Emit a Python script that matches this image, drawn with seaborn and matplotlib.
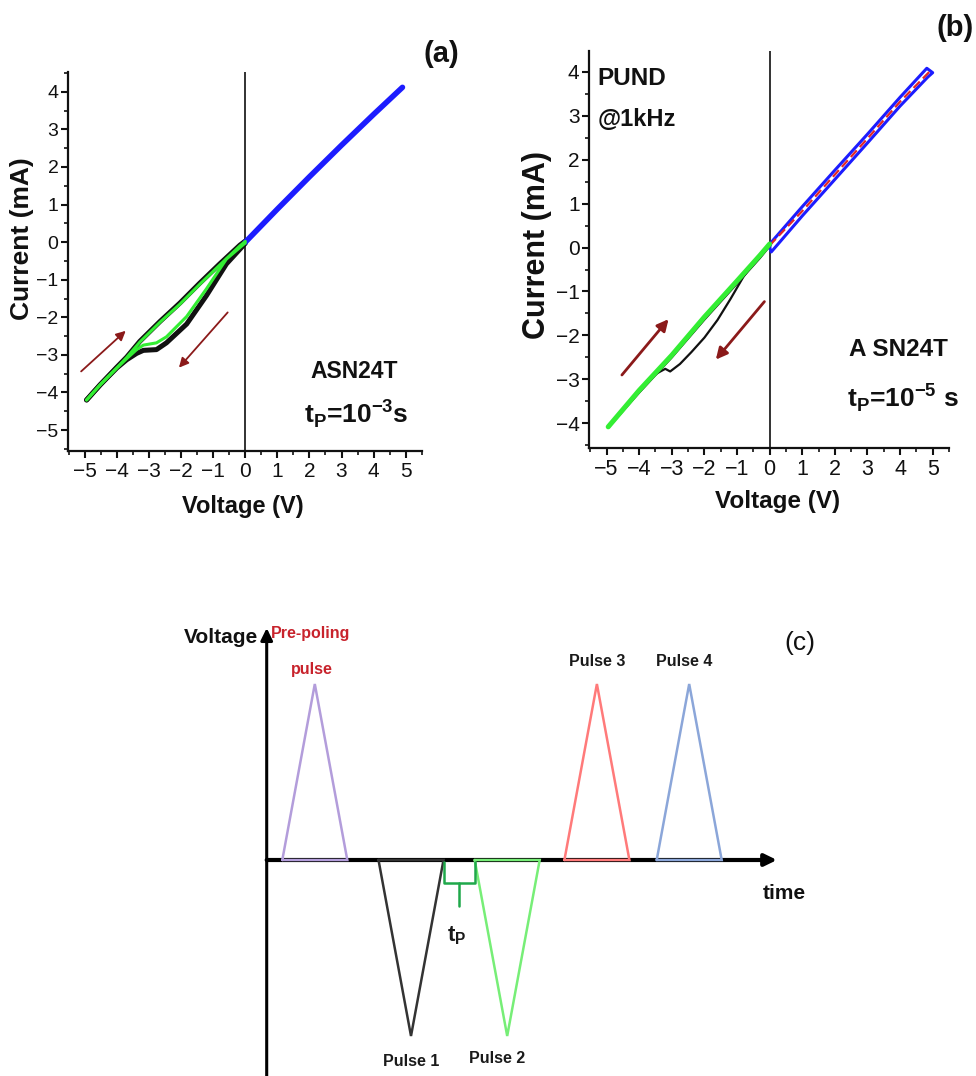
import matplotlib.pyplot as plt
import seaborn as sns
from matplotlib.ticker import MultipleLocator

# ---- panel (a): ASN24T, tp = 1e-3 s ----
a_down_v = [0.0, -0.59, -1.21, -1.83, -2.46, -2.77, -3.18, -3.39, -3.70, -4.01, -4.53, -4.95]
a_black_down_i = [-0.03, -0.58, -1.42, -2.18, -2.68, -2.86, -2.88, -2.96, -3.13, -3.35, -3.80, -4.20]
a_green_down_i = [-0.02, -0.45, -1.24, -1.98, -2.52, -2.68, -2.74, -2.86, -3.10, -3.35, -3.80, -4.20]
a_up_v = [-4.95, -4.53, -4.01, -3.70, -3.29, -2.66, -2.04, -1.42, -0.80, -0.17, 0.0]
a_black_up_i = [-4.20, -3.80, -3.33, -3.06, -2.64, -2.11, -1.62, -1.09, -0.58, -0.08, 0.03]
a_green_up_i = [-4.20, -3.80, -3.35, -3.07, -2.66, -2.13, -1.65, -1.12, -0.61, -0.10, 0.02]
a_pos_v = [0.0, 1.0, 2.0, 3.0, 4.0, 4.9]
a_pos_i = [0.0, 0.88, 1.74, 2.58, 3.40, 4.12]
a_arrows = [((-5.12, -3.44), (-3.73, -2.36)), ((-0.55, -1.87), (-2.07, -3.34))]

# ---- panel (b): ASN24T, tp = 1e-5 s, PUND @1kHz ----
b_down_v = [0.0, -0.4, -0.8, -1.2, -1.6, -2.0, -2.4, -2.75, -3.05, -3.2, -3.45, -3.7, -4.1, -4.5, -4.93]
b_black_down_i = [0.05, -0.25, -0.66, -1.17, -1.65, -2.05, -2.38, -2.65, -2.82, -2.76, -2.86, -3.0, -3.32, -3.68, -4.08]
b_up_v = [-4.95, -4.0, -3.0, -2.0, -1.0, -0.3, 0.0]
b_green_up_i = [-4.08, -3.25, -2.45, -1.58, -0.76, -0.18, 0.08]
b_black_up_i = [-4.10, -3.30, -2.50, -1.64, -0.82, -0.24, 0.03]
b_loop_v = [0.0, 0.05, 1.0, 2.0, 3.0, 4.0, 4.85, 5.0, 4.82, 4.0, 3.0, 2.0, 1.0, 0.05, 0.0]
b_loop_i = [0.0, -0.1, 0.72, 1.55, 2.38, 3.22, 3.88, 3.98, 4.08, 3.42, 2.58, 1.76, 0.93, 0.12, 0.0]
b_red_v = [0.0, 1.0, 2.0, 3.0, 4.0, 4.9]
b_red_i = [0.05, 0.83, 1.66, 2.48, 3.32, 4.0]
b_arrows = [((-4.53, -2.90), (-3.10, -1.63)), ((-0.16, -1.23), (-1.65, -2.55))]

# ---- panel (c): pulse sequence schematic ----
pulse_start = [0.24, 1.72, 3.2, 4.58, 6.0]
pulse_width = 1.0
pulse_amp = [1, -1, -1, 1, 1]
pulse_color = ["#b39ddb", "#333333", "#77ee77", "#ff7a7a", "#8ba6d9"]
pulse_label = ["Pre-poling", "Pulse 1", "Pulse 2", "Pulse 3", "Pulse 4"]
pulse_label_x = [0.68, 2.22, 3.55, 5.08, 6.42]
pulse_label_y = [1.288, -1.146, -1.126, 1.127, 1.127]
time_end = 7.85

W, H = 976, 1076
FONT = ["Liberation Sans", "DejaVu Sans"]
DARKRED = "#8b1a1a"
INK = "#111111"


def fx(px):
    return px / W


def fy(py):
    return 1 - py / H


def curve(ax, v, i, color, lw, z, ls="-"):
    sns.lineplot(x=v, y=i, ax=ax, sort=False, estimator=None, color=color,
                 linewidth=lw, linestyle=ls, zorder=z, legend=False)


def style_iv(ax, xlim, ylim, ytick_size, xtick_size):
    ax.set_xlim(*xlim)
    ax.set_ylim(*ylim)
    ax.spines[["top", "right"]].set_visible(False)
    for s in ("left", "bottom"):
        ax.spines[s].set_linewidth(1.6)
        ax.spines[s].set_color(INK)
    ax.xaxis.set_major_locator(MultipleLocator(1))
    ax.xaxis.set_minor_locator(MultipleLocator(0.5))
    ax.yaxis.set_major_locator(MultipleLocator(1))
    ax.yaxis.set_minor_locator(MultipleLocator(0.5))
    ax.tick_params(which="both", bottom=True, left=True, top=False, right=False,
                   direction="out", color=INK)
    ax.tick_params(which="major", length=5, width=1.5, pad=2, labelcolor=INK)
    ax.tick_params(which="minor", length=3, width=1.2)
    ax.tick_params(axis="x", which="major", pad=3)
    ax.axvline(0, color="#222222", lw=1.3, zorder=1)
    for lab in ax.get_yticklabels():
        lab.set_fontsize(ytick_size)
    for lab in ax.get_xticklabels():
        lab.set_fontsize(xtick_size)
    ax.set_facecolor("none")


def label_iv(ax, xl_pos, yl_pos, xsize, ysize):
    ax.set_xlabel("Voltage (V)", fontsize=xsize, fontweight="bold", color=INK)
    ax.set_ylabel("Current (mA)", fontsize=ysize, fontweight="bold", color=INK)
    ax.xaxis.set_label_coords(*xl_pos)
    ax.yaxis.set_label_coords(*yl_pos)
    ax.xaxis.label.set_verticalalignment("center")
    ax.yaxis.label.set_verticalalignment("center")


def arrows(ax, pairs, lw, scale):
    for start, end in pairs:
        ax.annotate("", xy=end, xytext=start,
                    arrowprops=dict(arrowstyle="-|>", color=DARKRED, lw=lw,
                                    mutation_scale=scale, shrinkA=0, shrinkB=0))


def main() -> None:
    sns.set_theme(style="ticks")
    plt.rcParams["font.family"] = FONT
    plt.rcParams["axes.unicode_minus"] = True

    fig = plt.figure(figsize=(W / 100, H / 100), dpi=100)

    # (a)
    ax_a = fig.add_axes([fx(68.3), fy(450.7), 353.4 / W, 378.4 / H])
    curve(ax_a, a_pos_v, a_pos_i, "#ff2a2a", 2.0, 3)
    curve(ax_a, a_pos_v, a_pos_i, "#1c1cff", 4.0, 4)
    curve(ax_a, a_down_v, a_black_down_i, INK, 3.6, 3)
    curve(ax_a, a_up_v, a_black_up_i, INK, 3.6, 3)
    curve(ax_a, a_down_v, a_green_down_i, "#33ee33", 2.2, 4)
    curve(ax_a, a_up_v, a_green_up_i, "#33ee33", 2.2, 4)
    arrows(ax_a, a_arrows, 1.3, 14)
    style_iv(ax_a, (-5.52, 5.5), (-5.55, 4.52), 14, 15)
    label_iv(ax_a, (0.494, -0.148), (-0.13, 0.561), 17, 19)

    # (b)
    ax_b = fig.add_axes([fx(589.3), fy(447.7), 360 / W, 397 / H])
    curve(ax_b, b_loop_v, b_loop_i, "#1c1cff", 2.2, 3)
    curve(ax_b, b_red_v, b_red_i, "#e02828", 1.6, 4, ls=(0, (4, 2)))
    curve(ax_b, b_down_v, b_black_down_i, INK, 1.6, 3)
    curve(ax_b, b_up_v, b_black_up_i, INK, 1.6, 3)
    curve(ax_b, b_up_v, b_green_up_i, "#33ee33", 3.6, 4)
    arrows(ax_b, b_arrows, 2.0, 17)
    style_iv(ax_b, (-5.53, 5.51), (-4.555, 4.48), 15, 15.5)
    label_iv(ax_b, (0.524, -0.136), (-0.146, 0.511), 17.5, 22)

    # texts of (a) and (b)
    fig.text(fx(441.7), fy(54), "(a)", fontsize=21, fontweight="bold",
             ha="center", va="center", color=INK)
    fig.text(fx(354), fy(371.7), "ASN24T", fontsize=16.5,
             fontweight="bold", ha="center", va="center", color=INK)
    fig.text(fx(356), fy(414), r"t$_\mathregular{P}$=10$^\mathregular{-3}$s",
             fontsize=19, fontweight="bold", ha="center", va="center", color=INK)
    fig.text(fx(955), fy(27.5), "(b)", fontsize=21, fontweight="bold",
             ha="center", va="center", color=INK)
    fig.text(fx(898), fy(349), "A SN24T", fontsize=17.5, fontweight="bold",
             ha="center", va="center", color=INK)
    fig.text(fx(902.5), fy(398), r"t$_\mathregular{P}$=10$^\mathregular{-5}$ s",
             fontsize=19, fontweight="bold", ha="center", va="center", color=INK)
    fig.text(fx(597.3), fy(78.3), "PUND", fontsize=17.5, fontweight="bold",
             ha="left", va="center", color=INK)
    fig.text(fx(597.3), fy(120), "@1kHz", fontsize=17, fontweight="bold",
             ha="left", va="center", color=INK)

    # (c) schematic: 1 time unit = 65 px, 1 amplitude unit = 176 px, origin at (266.7, 860)
    ax_c = fig.add_axes([fx(200), 0, 650 / W, 476 / H])
    ax_c.set_xlim((200 - 266.7) / 65, (850 - 266.7) / 65)
    ax_c.set_ylim((860 - 1076) / 176, (860 - 600) / 176)
    ax_c.axis("off")

    head = dict(arrowstyle="-|>,head_length=0.45,head_width=0.22", color="black",
                shrinkA=0, shrinkB=0, mutation_scale=16)
    ax_c.annotate("", xy=(time_end, 0), xytext=(0, 0),
                  arrowprops=dict(lw=3.0, **head), zorder=2)
    ax_c.annotate("", xy=(0, 1.318), xytext=(0, -1.4),
                  arrowprops=dict(lw=2.2, **head), zorder=2)

    for s, a, c in zip(pulse_start, pulse_amp, pulse_color):
        xs = [s, s + pulse_width / 2, s + pulse_width, s]
        ys = [0, a, 0, 0]
        ax_c.plot(xs, ys, color=c, lw=1.8, zorder=3, solid_joinstyle="miter")

    for name, x, y in zip(pulse_label, pulse_label_x, pulse_label_y):
        col = "#c8232c" if name == "Pre-poling" else "#1a1a1a"
        ax_c.text(x, y, name, fontsize=11.5, fontweight="bold",
                  color=col, ha="center", va="center")
    ax_c.text(0.69, 1.08, "pulse", fontsize=11.5, fontweight="bold",
              color="#c8232c", ha="center", va="center")

    # tp bracket between pulse 1 and pulse 2
    b0 = pulse_start[1] + pulse_width
    b1 = pulse_start[2]
    bm = (b0 + b1) / 2
    ax_c.plot([b0, b0, b1, b1], [-0.01, -0.13, -0.13, -0.01], color="#1fa84a", lw=1.8, zorder=3)
    ax_c.plot([bm, bm], [-0.13, -0.26], color="#1fa84a", lw=1.8, zorder=3)
    ax_c.text(bm - 0.04, -0.43, r"t$_\mathregular{P}$", fontsize=16,
              fontweight="bold", color="#1a1a1a", ha="center", va="center")

    ax_c.text(-0.134, 1.267, "Voltage", fontsize=15, fontweight="bold",
              ha="right", va="center", color=INK)
    ax_c.text(7.97, -0.19, "time", fontsize=15, fontweight="bold",
              ha="center", va="center", color=INK)
    ax_c.text(8.2, 1.233, "(c)", fontsize=19, ha="center", va="center", color=INK)

    fig.savefig("out.png", dpi=100)
    plt.close(fig)


if __name__ == "__main__":
    main()
